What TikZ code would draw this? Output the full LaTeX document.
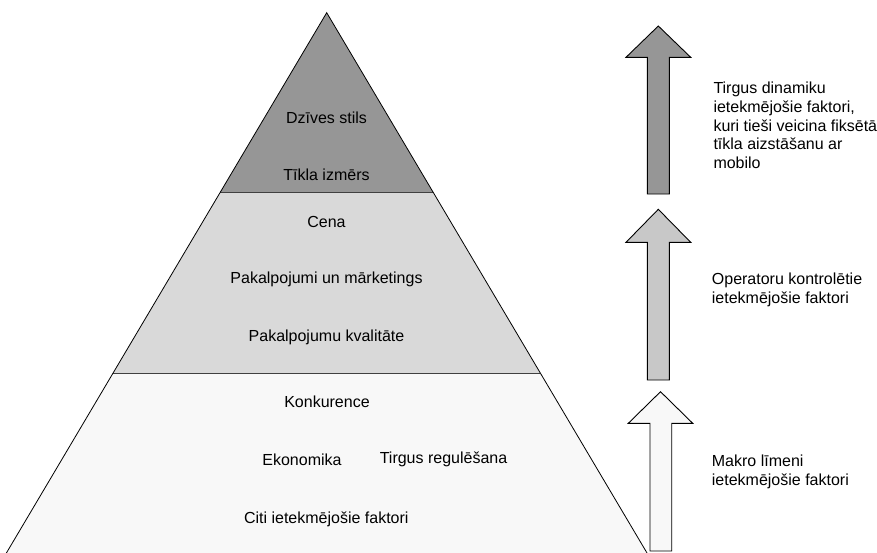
\documentclass[tikz,border=0pt]{standalone}
\usepackage{fontspec}
\setmainfont{Liberation Sans}
\definecolor{topgray}{RGB}{150,150,150}
\definecolor{midgray}{RGB}{217,217,217}
\definecolor{lowgray}{RGB}{248,248,248}
\definecolor{arrowmid}{RGB}{200,200,200}
\begin{document}
\begin{tikzpicture}[x=1pt,y=-1pt,
  lbl/.style={font=\fontsize{16}{18.7}\selectfont, inner sep=0pt, anchor=center},
  side/.style={font=\fontsize{16}{18.7}\selectfont, inner sep=0pt, anchor=west, align=left},
  band/.style={draw=none},
  fatarrow/.style={draw=black, line width=0.9pt, line join=miter}]
\useasboundingbox (0,0) rectangle (877,552);
\clip (0,0) rectangle (877,552);
% pyramid bands
\coordinate (apex) at (326.7,12.7);
\coordinate (l1) at (220.4,192); \coordinate (r1) at (433.0,192);
\coordinate (l2) at (113.1,373); \coordinate (r2) at (540.3,373);
\coordinate (l3) at (5.2,555); \coordinate (r3) at (648.2,555);
\fill[topgray] (apex) -- (l1) -- (r1) -- cycle;
\fill[midgray] (l1) -- (r1) -- (r2) -- (l2) -- cycle;
\fill[lowgray] (l2) -- (r2) -- (r3) -- (l3) -- cycle;
\draw[black!75, line width=0.9pt] (l1) -- (r1);
\draw[black!75, line width=0.9pt] (l2) -- (r2);
\draw[black, line width=0.8pt, line join=miter] (l3) -- (apex) -- (r3);
% texts in pyramid
\node[lbl] (t1) at (326.5,118) {Dzīves stils};
\node[lbl] (t2) at (326.5,175) {Tīkla izmērs};
\node[lbl] (m1) at (326.5,221.7) {Cena};
\node[lbl] (m2) at (326.5,279) {Pakalpojumi un mārketings};
\node[lbl] (m3) at (326.5,337.3) {Pakalpojumu kvalitāte};
\node[lbl] (b1) at (327,401.7) {Konkurence};
\node[lbl] (b2) at (302,459.3) {Ekonomika};
\node[lbl] (b3) at (443.5,459.3) {Tirgus regulēšana};
\node[lbl] (b4) at (326.3,519.3) {Citi ietekmējošie faktori};
% arrows
\filldraw[fatarrow, fill=topgray] (658.3,26) -- (690.7,57.3) -- (669.3,57.3) -- (669.3,194)
  -- (647.3,194) -- (647.3,57.3) -- (626,57.3) -- cycle;
\filldraw[fatarrow, fill=arrowmid] (658.3,209.3) -- (690.7,242.3) -- (669.3,242.3) -- (669.3,380)
  -- (647.3,380) -- (647.3,242.3) -- (626,242.3) -- cycle;
\filldraw[fatarrow, fill=lowgray] (660.5,391.7) -- (692.7,423.3) -- (671.7,423.3) -- (671.7,551)
  -- (650,551) -- (650,423.3) -- (628.3,423.3) -- cycle;
% side texts
\node[side, anchor=north west] (s1) at (713.3,82) {Tirgus dinamiku\\ietekmējošie faktori,\\kuri tieši veicina fiksētā\\tīkla aizstāšanu ar\\mobilo};
\node[side, anchor=north west] (s2) at (711.7,272.5) {Operatoru kontrolētie\\ietekmējošie faktori};
\node[side, anchor=north west] (s3) at (711.7,455) {Makro līmeni\\ietekmējošie faktori};
\end{tikzpicture}
\end{document}
